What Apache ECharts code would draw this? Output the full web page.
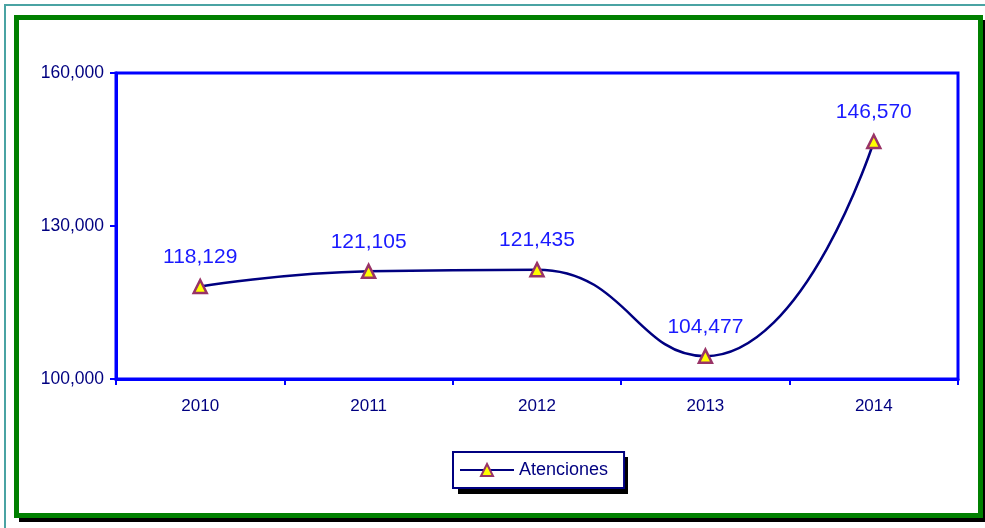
<!DOCTYPE html>
<html>
<head>
<meta charset="utf-8">
<script src="https://cdn.jsdelivr.net/npm/echarts@6/dist/echarts.min.js"></script>
<style>
  html, body { margin: 0; padding: 0; background: #fff; }
  #chart { width: 985px; height: 528px; }
</style>
</head>
<body>
<div id="chart"></div>
<script>
// datos
var years = ['2010', '2011', '2012', '2013', '2014'];
var atenciones = [118129, 121105, 121435, 104477, 146570];
var yTicks = [100000, 130000, 160000];

var fmt = function (v) { return Number(v).toLocaleString('en-US'); };
var font = "'Liberation Sans', Arial, sans-serif";

var myChart = echarts.init(document.getElementById('chart'));

var option = {
	backgroundColor: '#fff',
	animation: false,
	// marco del grafico y sombra de la leyenda
	graphic: [
		{ type: 'rect', z: -10, shape: { x: 5, y: 5, width: 1100, height: 1100 }, style: { fill: 'none', stroke: '#4aa3a3', lineWidth: 2 } },
		{ type: 'rect', z: -9, shape: { x: 19, y: 20, width: 970, height: 502 }, style: { fill: '#000' } },
		{ type: 'rect', z: -8, shape: { x: 16.5, y: 17.5, width: 964, height: 498 }, style: { fill: '#fff', stroke: '#008000', lineWidth: 5 } },
		{ type: 'rect', z: -7, shape: { x: 458, y: 457, width: 170, height: 37 }, style: { fill: '#000' } }
	],
	grid: {
		left: 116,
		top: 73,
		right: 27,
		bottom: 149,
		show: true,
		borderColor: '#0000ff',
		borderWidth: 3,
		backgroundColor: 'transparent'
	},
	legend: {
		data: ['Atenciones'],
		left: 453,
		top: 452,
		padding: [9, 16, 9, 6],
		itemWidth: 54,
		itemHeight: 15,
		itemGap: 5,
		backgroundColor: '#fff',
		borderColor: '#000080',
		borderWidth: 2,
		textStyle: { color: '#000080', fontSize: 18, fontFamily: font }
	},
	xAxis: {
		type: 'category',
		data: years,
		boundaryGap: true,
		axisLine: { lineStyle: { color: '#0000ff', width: 3 } },
		axisTick: { show: true, length: 6, lineStyle: { color: '#0000ff', width: 2 } },
		axisLabel: { color: '#000080', fontSize: 17, fontFamily: font, margin: 19 },
		splitLine: { show: false }
	},
	yAxis: {
		type: 'value',
		min: 100000,
		max: 160000,
		axisLine: { show: true, lineStyle: { color: '#0000ff', width: 3 } },
		axisTick: { show: true, length: 6, customValues: yTicks, lineStyle: { color: '#0000ff', width: 2 } },
		axisLabel: { color: '#000080', fontSize: 17.5, fontFamily: font, margin: 12, customValues: yTicks, formatter: fmt },
		splitLine: { show: false }
	},
	series: [
		{
			name: 'Atenciones',
			type: 'line',
			data: atenciones,
			smooth: 0.5,
			symbol: 'triangle',
			symbolSize: 13,
			lineStyle: { color: '#000080', width: 2.5 },
			itemStyle: { color: '#ffff00', borderColor: '#993366', borderWidth: 2.5 },
			label: {
				show: true,
				position: 'top',
				distance: 11,
				color: '#1a1aff',
				fontSize: 21,
				fontFamily: font,
				formatter: function (p) { return fmt(p.value); }
			}
		}
	]
};

myChart.setOption(option);
</script>
</body>
</html>
